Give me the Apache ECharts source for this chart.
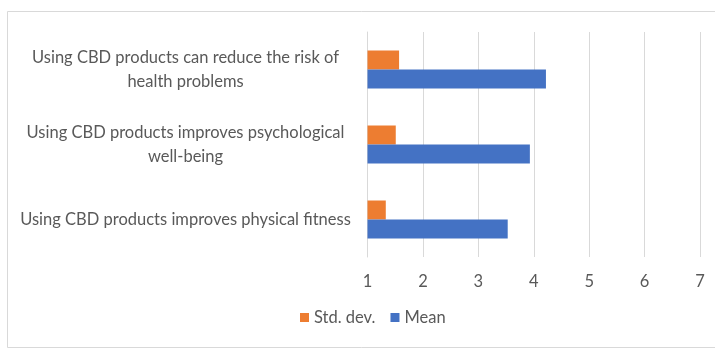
<!DOCTYPE html>
<html>
<head>
<meta charset="utf-8">
<script src="https://cdn.jsdelivr.net/npm/echarts@6/dist/echarts.min.js"></script>
<style>
  html, body { margin: 0; padding: 0; background: #ffffff; }
  #chart { width: 715px; height: 349px; }
</style>
</head>
<body>
<div id="chart"></div>
<script>
// Survey statements, bottom to top on the category axis
const categories = [
  'Using CBD products improves physical fitness',
  'Using CBD products improves psychological\nwell-being',
  'Using CBD products can reduce the risk of\nhealth problems'
];
const stdDevValues = [1.33, 1.51, 1.57];
const meanValues = [3.53, 3.93, 4.22];
const seriesNames = ['Std. dev.', 'Mean'];
const xTicks = [1, 2, 3, 4, 5, 6, 7];

const FONT = 'Lato';
const FS = 16.5;
const TEXT = '#595959';
const GRID = '#d9d9d9';

const chart = echarts.init(document.getElementById('chart'), null, { renderer: 'canvas' });

chart.setOption({
  animation: false,
  backgroundColor: '#ffffff',
  graphic: [{
    type: 'rect',
    shape: { x: 7.5, y: 11.5, width: 720, height: 336 },
    style: { fill: 'none', stroke: '#d9d9d9', lineWidth: 1 },
    silent: true
  }],
  grid: { left: 367.5, right: 15, top: 32, bottom: 92, containLabel: false },
  legend: {
    data: seriesNames,
    bottom: 18,
    left: 295,
    itemWidth: 9,
    itemHeight: 9,
    itemGap: 15,
    icon: 'rect',
    textStyle: { color: TEXT, fontSize: FS, fontFamily: FONT }
  },
  xAxis: {
    type: 'value',
    min: xTicks[0],
    max: xTicks[xTicks.length - 1],
    interval: 1,
    axisLine: { show: false },
    axisTick: { show: false },
    splitLine: { show: true, lineStyle: { color: GRID, width: 1 } },
    axisLabel: { color: TEXT, fontSize: FS, fontFamily: FONT, margin: 16 }
  },
  yAxis: {
    type: 'category',
    data: categories,
    axisLine: { show: true, lineStyle: { color: GRID, width: 1 } },
    axisTick: { show: false },
    axisLabel: {
      color: TEXT,
      fontSize: FS,
      fontFamily: FONT,
      lineHeight: 24,
      margin: 17,
      align: 'right',
      formatter: function (v) { return '{t|' + v.split('\n').join('}\n{t|') + '}'; },
      rich: {
        t: { width: 330, align: 'center', color: TEXT, fontSize: FS, fontFamily: FONT, lineHeight: 24 }
      }
    }
  },
  series: [
    {
      name: seriesNames[0],
      type: 'bar',
      data: stdDevValues,
      barWidth: 19,
      barGap: '0%',
      itemStyle: { color: '#ED7D31' }
    },
    {
      name: seriesNames[1],
      type: 'bar',
      data: meanValues,
      barWidth: 19,
      barGap: '0%',
      itemStyle: { color: '#4472C4' }
    }
  ]
});
</script>
</body>
</html>
